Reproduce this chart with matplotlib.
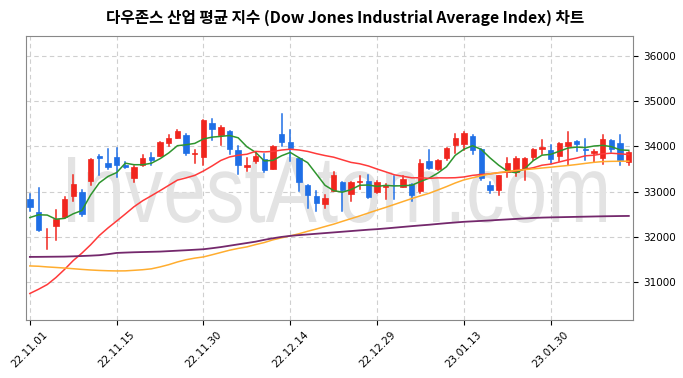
import matplotlib
matplotlib.use("Agg")
import numpy as np
import pandas as pd
from matplotlib import pyplot as plt
from matplotlib.patches import Rectangle, PathPatch
from matplotlib.textpath import TextPath
from matplotlib.font_manager import FontProperties
from matplotlib.transforms import Affine2D

# Dow Jones daily OHLC, 2022-11-01 .. 2023-02-10 (trading days)
opens = [32840, 32556, 31990, 32230, 32430, 32911, 33000, 33230, 33795, 33644,
         33756, 33590, 33304, 33600, 33756, 33793, 34074, 34193, 34259, 33840,
         33763, 34526, 34259, 34333, 33926, 33541, 33674, 33733, 33504, 34267,
         34089, 33748, 33156, 32904, 32726, 33022, 33222, 32948, 33210, 33244,
         32985, 33100, 33150, 33111, 33170, 33022, 33667, 33504, 33741, 34037,
         34059, 34229, 33933, 33156, 33044, 33430, 33444, 33496, 33763, 33948,
         33911, 33785, 34015, 34126, 33935, 33852, 33741, 34133, 34081, 33652]
highs = [32950, 33070, 32170, 32590, 32880, 33360, 33040, 33726, 33800, 33948,
         33970, 33650, 33556, 33815, 33859, 34104, 34259, 34370, 34281, 33926,
         34589, 34600, 34459, 34333, 34000, 33748, 33852, 33837, 34020, 34712,
         34370, 33748, 33156, 33015, 32933, 33430, 33222, 33222, 33356, 33378,
         33244, 33160, 33356, 33356, 33170, 33704, 33926, 33704, 33970, 34281,
         34318, 34259, 33933, 33222, 33356, 33741, 33763, 33741, 33948, 34133,
         34037, 34086, 34318, 34126, 34170, 33926, 34244, 34148, 34244, 33869]
lows = [32580, 32120, 31727, 31926, 32415, 32800, 32467, 33156, 33378, 33500,
        33319, 33517, 33222, 33563, 33585, 33778, 34000, 34185, 33800, 33644,
        33578, 34148, 34037, 33837, 33393, 33467, 33630, 33437, 33500, 34007,
        33674, 33007, 32637, 32578, 32637, 33022, 32573, 32800, 33059, 32852,
        32970, 32837, 32837, 33096, 32800, 32970, 33496, 33481, 33704, 33852,
        33926, 33822, 33267, 32970, 32933, 33319, 33348, 33259, 33689, 33837,
        33630, 33674, 33578, 33889, 33689, 33652, 33615, 33874, 33600, 33578]
closes = [32653.20, 32147.76, 32001.25, 32403.22, 32827.00, 33160.83, 32513.94, 33715.37, 33747.86, 33536.70,
          33592.92, 33553.83, 33546.32, 33745.69, 33700.28, 34098.10, 34194.06, 34347.03, 33849.46, 33852.53,
          34589.77, 34395.01, 34429.88, 33947.10, 33596.34, 33597.92, 33781.48, 33476.46, 34005.04, 34108.64,
          33966.35, 33202.22, 32920.46, 32757.54, 32849.74, 33376.48, 33027.49, 33203.93, 33241.56, 32875.71,
          33220.80, 33147.25, 33136.37, 33269.77, 32930.08, 33630.61, 33517.65, 33704.10, 33973.01, 34189.97,
          34302.61, 33910.85, 33296.96, 33044.56, 33375.49, 33629.56, 33733.96, 33743.84, 33949.41, 33978.08,
          33717.09, 34086.04, 34092.96, 34053.94, 33926.01, 33891.02, 34156.69, 33949.01, 33699.88, 33869.27]

# closes of 2022-10-05 .. 2022-10-31, needed for the short moving averages
prev_closes = [30273.87, 29926.94, 29296.79, 29202.88, 29239.19, 29210.85, 30038.72, 29634.83,
               30185.82, 30523.80, 30423.81, 30333.59, 31082.56, 31499.62, 31836.74, 31839.11,
               32033.28, 32861.80, 32732.95]

# 60 and 120 day averages
ma60 = [31352, 31345, 31330, 31318, 31305, 31290, 31275, 31262, 31252, 31245,
        31241, 31243, 31255, 31268, 31288, 31330, 31380, 31440, 31490, 31525,
        31552, 31600, 31650, 31700, 31740, 31774, 31825, 31870, 31930, 31975,
        32018, 32065, 32120, 32170, 32225, 32278, 32340, 32400, 32460, 32525,
        32589, 32650, 32715, 32780, 32845, 32905, 32962, 33035, 33110, 33190,
        33259, 33305, 33350, 33393, 33420, 33445, 33467, 33485, 33503, 33522,
        33540, 33560, 33578, 33600, 33625, 33648, 33665, 33670, 33672, 33673]
ma120 = [31552, 31553, 31555, 31557, 31559, 31565, 31572, 31580, 31590, 31612,
         31640, 31648, 31655, 31660, 31665, 31670, 31680, 31690, 31700, 31711,
         31722, 31745, 31770, 31800, 31830, 31860, 31890, 31930, 31965, 31995,
         32018, 32035, 32050, 32065, 32080, 32095, 32110, 32125, 32140, 32155,
         32167, 32183, 32200, 32217, 32234, 32250, 32265, 32283, 32300, 32315,
         32330, 32340, 32350, 32360, 32372, 32383, 32394, 32405, 32415, 32423,
         32428, 32432, 32436, 32440, 32444, 32448, 32452, 32455, 32458, 32460]

tick_pos = [0, 10, 20, 30, 40, 50, 60]
tick_labels = ["22.11.01", "22.11.15", "22.11.30", "22.12.14", "22.12.29", "23.01.13", "23.01.30"]
y_ticks = [31000, 32000, 33000, 34000, 35000, 36000]

all_close = pd.Series(prev_closes + closes)
n_prev = len(prev_closes)
ma5 = all_close.rolling(5).mean().values[n_prev:]
ma20 = all_close.rolling(20).mean().values[n_prev:]

UP = "#f0261e"
DOWN = "#1f6fe6"

fig = plt.figure(figsize=(6.83, 3.78), dpi=100)
ax = fig.add_axes([0.038, 0.153, 0.889, 0.752])

# watermark, squeezed to the width of the original (pixel box, from top-left)
wm = TextPath((0, 0), "InvestAtom.com", size=1, prop=FontProperties(family="Liberation Sans"))
ext = wm.get_extents()
cap = TextPath((0, 0), "I", size=1, prop=FontProperties(family="Liberation Sans")).get_extents().y1
left_px, right_px, top_px, base_px = 68, 606, 157, 222
sx = (right_px - left_px) / ext.width
sy = (base_px - top_px) / cap
tr = (Affine2D().translate(-ext.x0, 0).scale(sx / 100.0, sy / 100.0)
      .translate(left_px / 100.0, (378 - base_px) / 100.0) + fig.dpi_scale_trans)
ax.add_patch(PathPatch(wm, transform=tr, facecolor="#e3e3e3", edgecolor="none", zorder=1))

x = np.arange(len(closes))
w = 0.62
for i in x:
    o, h, l, c = opens[i], highs[i], lows[i], closes[i]
    col = UP if c >= o else DOWN
    ax.plot([i, i], [l, h], color=col, lw=1.1, zorder=3)
    bottom = min(o, c)
    height = max(abs(c - o), 12)
    ax.add_patch(Rectangle((i - w / 2, bottom), w, height, facecolor=col, edgecolor=col,
                           lw=0.5, zorder=3))

ax.plot(x, ma5, color="#2e952e", lw=1.1, zorder=4)
ax.plot(x, ma20, color="#ff3a3a", lw=1.1, zorder=4)
ax.plot(x, ma60, color="#ffad2f", lw=1.1, zorder=4)
ax.plot(x, ma120, color="#74286c", lw=1.3, zorder=4)

ax.set_xlim(-0.45, 69.5)
ax.set_ylim(30150, 36450)
ax.set_xticks(tick_pos)
ax.set_xticklabels(tick_labels, rotation=45, fontsize=7.5)
ax.yaxis.tick_right()
ax.set_yticks(y_ticks)
ax.set_yticklabels([str(v) for v in y_ticks], fontsize=7.5)
ax.grid(True, linestyle=(0, (4, 3)), color="#cfcfcf", lw=0.8)
ax.set_axisbelow(True)
for s in ax.spines.values():
    s.set_color("#888888")

fig.text(0.506, 0.952, "다우존스 산업 평균 지수 (Dow Jones Industrial Average Index) 차트",
         ha="center", va="center", fontsize=11.3, fontweight="bold",
         family=["Noto Sans CJK KR", "DejaVu Sans"])

fig.savefig("out.png", dpi=100)
